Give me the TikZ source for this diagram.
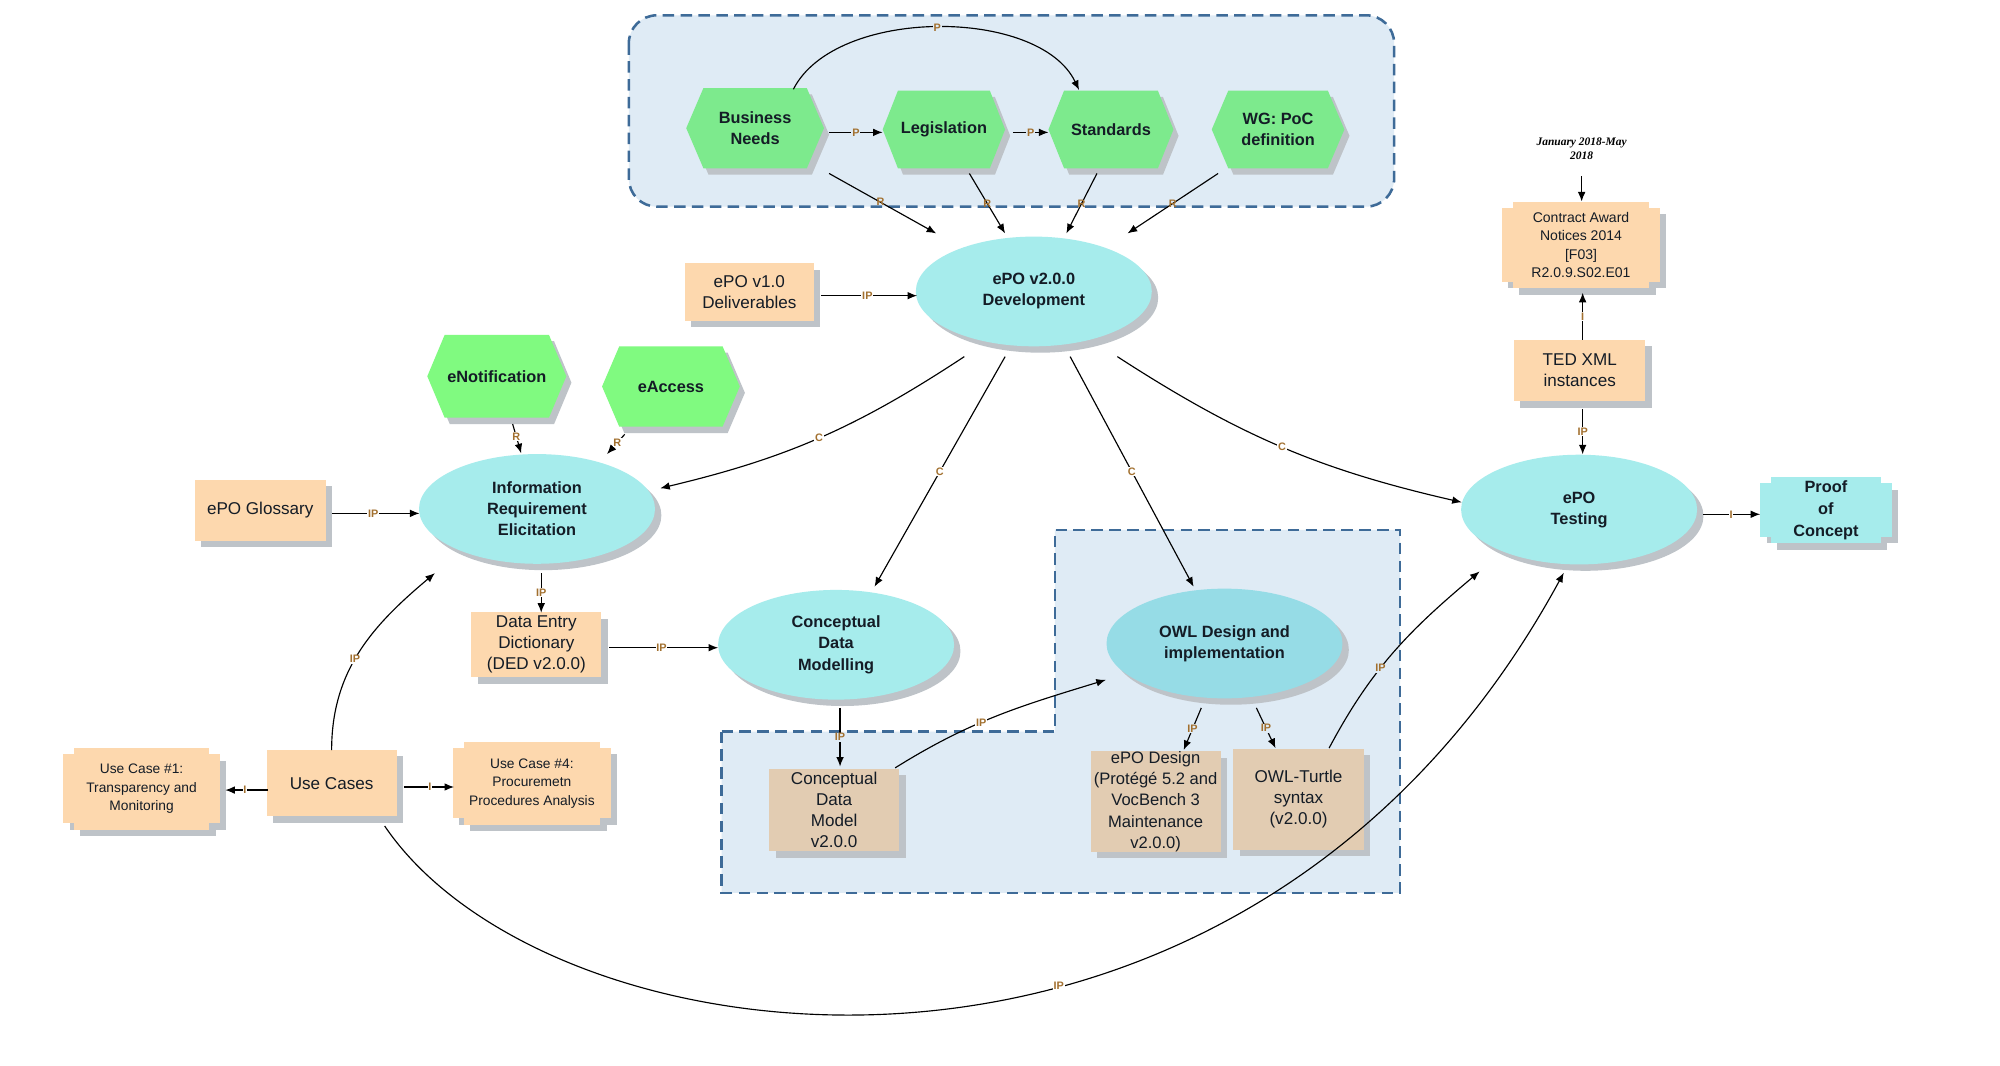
\documentclass[tikz,border=0pt]{standalone}
\usepackage{fontspec}
\setmainfont{Liberation Sans}
\newfontfamily\datefont{Liberation Serif}
\usetikzlibrary{shapes.geometric,shadows,calc,arrows.meta}

\definecolor{hexgreen}{HTML}{7DEA8D}
\definecolor{hexgreenb}{HTML}{80FA80}
\definecolor{cyanfill}{HTML}{A6ECEC}
\definecolor{owlfill}{HTML}{96DCE6}
\definecolor{peach}{HTML}{FDD8AE}
\definecolor{tanfill}{HTML}{E2CCB2}
\definecolor{contfill}{HTML}{DFEBF5}
\definecolor{contline}{HTML}{3E6B98}
\definecolor{shadowc}{HTML}{BEC3C8}
\definecolor{txt}{HTML}{141C26}
\definecolor{lblcol}{HTML}{A2702F}

\tikzset{
  every node/.style={text=txt},
  shad/.style={drop shadow={shadow xshift=5pt,shadow yshift=-5pt,fill=shadowc,opacity=1}},
  ell/.style={ellipse, shad, fill=cyanfill, minimum width=185pt, minimum height=86pt,
    inner sep=0pt, align=center, font=\bfseries\fontsize{12.8}{16.5}\selectfont},
  rbox/.style={rectangle, shad, fill=peach, inner sep=0pt, align=center,
    font=\fontsize{13.4}{16.5}\selectfont},
  hextext/.style={inner sep=0pt, align=center, font=\bfseries\fontsize{12.8}{16}\selectfont},
  conn/.style={line width=0.9pt, -{Latex[length=7.5pt,width=6pt]}},
  lbl/.style={font=\bfseries\fontsize{8.5}{8.5}\selectfont, text=lblcol, inner sep=0.6pt, fill=white},
  lblin/.style={lbl, fill=contfill},
  lblno/.style={lbl, fill=none},
  cont/.style={draw=contline, fill=contfill, line width=2pt, dash pattern=on 9pt off 5pt},
}

% hexagon: name, x, y, w, h, fill, text
\newcommand\hexnode[7]{%
  \begin{scope}[shift={(#2,#3)}]
    \pgfmathsetmacro\hxw{#4/2}\pgfmathsetmacro\hxh{#5/2}\pgfmathsetmacro\hxp{#4*0.125}
    \fill[shadowc] (-\hxw+4,-5) -- (-\hxw+\hxp+4,\hxh-5) -- (\hxw-\hxp+4,\hxh-5) -- (\hxw+4,-5)
      -- (\hxw-\hxp+4,-\hxh-5) -- (-\hxw+\hxp+4,-\hxh-5) -- cycle;
    \fill[#6] (-\hxw,0) -- (-\hxw+\hxp,\hxh) -- (\hxw-\hxp,\hxh) -- (\hxw,0)
      -- (\hxw-\hxp,-\hxh) -- (-\hxw+\hxp,-\hxh) -- cycle;
    \node[hextext, minimum width=#4pt, minimum height=#5pt] (#1) at (0,0) {#7};
  \end{scope}}

% notched box: name, x, y, w, h, fill, font, text
\newcommand\crossnode[8]{%
  \begin{scope}[shift={(#2,#3)}]
    \pgfmathsetmacro\cxw{#4/2}\pgfmathsetmacro\cxh{#5/2}
    \foreach \sx/\sy/\cbcol in {5/-5/shadowc, 0/0/#6} {
      \fill[\cbcol] (-\cxw+\sx,-\cxh+5+\sy) rectangle (\cxw+\sx,\cxh-5+\sy);
      \fill[\cbcol] (-\cxw+8.5+\sx,-\cxh+\sy) rectangle (\cxw-8.5+\sx,\cxh+\sy);
    }
    \node[inner sep=0pt, align=center, minimum width=#4pt, minimum height=#5pt, font=#7] (#1) at (0,0) {#8};
  \end{scope}}

\begin{document}
\begin{tikzpicture}[x=1pt,y=1pt]
\useasboundingbox (0,0) rectangle (1568,-835);
\fill[white] (0,0) rectangle (1568,-835);

% containers
\draw[cont, rounded corners=22pt] (493,-12) rectangle (1093,-162);
\draw[cont] (565.7,-573.6) -- (827,-573.6) -- (827,-415.5) -- (1097.6,-415.5)
  -- (1097.6,-700) -- (565.7,-700) -- cycle;

% hexagons
\hexnode{bn}{592}{-100.5}{108}{63}{hexgreen}{Business\\Needs}
\hexnode{leg}{740}{-101.5}{96}{61}{hexgreen}{Legislation}
\hexnode{std}{871}{-101.5}{98}{61}{hexgreen}{Standards}
\hexnode{wg}{1002}{-101.5}{104}{61}{hexgreen}{WG: PoC\\definition}
\hexnode{enot}{389.5}{-295}{109}{65}{hexgreenb}{eNotification}
\hexnode{eacc}{526}{-303}{108}{63}{hexgreenb}{eAccess}

% ellipses
\node[ell] (dev) at (810.5,-228.5) {ePO v2.0.0\\Development};
\node[ell] (ire) at (421,-399) {Information\\Requirement\\Elicitation};
\node[ell] (cdm) at (655.5,-505.5) {Conceptual\\Data\\Modelling};
\node[ell, fill=owlfill] (owl) at (960,-504.5) {OWL Design and\\implementation};
\node[ell] (test) at (1238,-399.5) {ePO\\Testing};

% boxes
\node[rbox, minimum width=101pt, minimum height=45pt] (v1) at (587.5,-229) {ePO v1.0\\Deliverables};
\node[rbox, minimum width=103pt, minimum height=48pt] (glos) at (204,-400) {ePO Glossary};
\node[rbox, minimum width=102pt, minimum height=51pt] (ded) at (420.5,-505.5) {Data Entry\\Dictionary\\(DED v2.0.0)};
\node[rbox, fill=tanfill, minimum width=102pt, minimum height=65pt] (cdmod) at (654,-635) {Conceptual\\Data\\Model\\v2.0.0};
\node[rbox, fill=tanfill, minimum width=102pt, minimum height=79pt, font=\fontsize{13}{16.5}\selectfont] (epod) at (906,-628.5) {ePO Design\\(Protégé 5.2 and\\VocBench 3\\Maintenance\\v2.0.0)};
\node[rbox, fill=tanfill, minimum width=102pt, minimum height=79pt] (turtle) at (1018,-626.5) {OWL-Turtle\\syntax\\(v2.0.0)};
\node[rbox, minimum width=103pt, minimum height=48pt] (ted) at (1238.5,-290.5) {TED XML\\instances};
\node[rbox, minimum width=102pt, minimum height=52pt] (uc) at (260,-614) {Use Cases};

\crossnode{can}{1239.5}{-192}{124}{68}{peach}{\fontsize{11}{14.5}\selectfont}{Contract Award\\Notices 2014\\{}[F03]\\R2.0.9.S02.E01}
\crossnode{poc}{1431.5}{-400}{103}{52}{cyanfill}{\bfseries\fontsize{12.8}{17}\selectfont}{Proof\\of\\Concept}
\crossnode{uc1}{111}{-618.5}{123}{64}{peach}{\fontsize{10.8}{14.5}\selectfont}{Use Case \#1:\\Transparency and\\Monitoring}
\crossnode{uc4}{417}{-614}{124}{65}{peach}{\fontsize{10.8}{14.5}\selectfont}{Use Case \#4:\\Procuremetn\\Procedures Analysis}

\node[font=\datefont\bfseries\itshape\fontsize{9}{11.5}\selectfont, align=center, inner sep=0pt, text=black] (date) at (1240,-116.5) {January 2018-May\\2018};

% connectors
\draw[conn] ($(bn.center)+(58,-3.3)$) -- node[lblin]{P} ($(leg.center)+(-48,-2.3)$);
\draw[conn] ($(leg.center)+(54,-2.3)$) -- node[lblin]{P} ($(std.center)+(-49,-2.3)$);
\draw[conn] ($(bn.center)+(30,30.5)$) .. controls +(33,65) and +(-31,65) .. ($(std.center)+(-25,30.9)$) node[lblin, pos=0.5]{P};

\draw[conn] ($(bn.center)+(58,-35.5)$) -- node[lblno, pos=0.48]{R} ($(dev.center)+(-76.5,45.5)$);
\draw[conn] ($(leg.center)+(20,-34.5)$) -- node[lblno, pos=0.5]{R} ($(dev.center)+(-22.5,45.5)$);
\draw[conn] ($(std.center)+(-11,-34.5)$) -- node[lblno, pos=0.5]{R} ($(dev.center)+(25.5,45.5)$);
\draw[conn] ($(wg.center)+(-47,-34.5)$) -- node[lblno, pos=0.5]{R} ($(dev.center)+(73.5,45.5)$);

\draw[conn] ($(v1.center)+(56.5,-2.8)$) -- node[lbl, pos=0.48]{IP} ($(dev.center)+(-91.5,-3.3)$);

\draw[conn] ($(enot.center)+(12.4,-37.4)$) -- node[lbl, pos=0.43]{R} ($(ire.center)+(-12.4,43.6)$);
\draw[conn] ($(eacc.center)+(-36.2,-37.5)$) -- node[lbl, pos=0.42]{R} ($(ire.center)+(54.9,43)$);

\draw[conn] ($(glos.center)+(56.6,-2.5)$) -- node[lbl, pos=0.47]{IP} ($(ire.center)+(-92.1,-3.5)$);
\draw[conn] ($(ire.center)+(3.3,-50.3)$) -- node[lbl]{IP} ($(ded.center)+(3.8,25.1)$);
\draw[conn] ($(ded.center)+(57,-2.3)$) -- node[lbl, pos=0.48]{IP} ($(cdm.center)+(-92.5,-2.3)$);

\draw[conn] ($(dev.center)+(-54.5,-51.1)$) to[bend left=10] node[lbl]{C} ($(ire.center)+(96.6,16.2)$);
\draw[conn] ($(dev.center)+(-22.5,-51.1)$) -- node[lbl]{C} ($(cdm.center)+(30.1,45.5)$);
\draw[conn] ($(dev.center)+(28.5,-51.1)$) -- node[lbl]{C} ($(owl.center)+(-24.2,44.5)$);
\draw[conn] ($(dev.center)+(65.5,-51.1)$) to[bend right=10] node[lbl]{C} ($(test.center)+(-92,5.7)$);

\draw[conn] ($(cdm.center)+(3.1,-49.5)$) -- node[lblin]{IP} ($(cdmod.center)+(4.6,34)$);
\draw[conn] ($(cdmod.center)+(47.8,33)$) to[out=32,in=197] node[lbl, pos=0.42]{IP} ($(owl.center)+(-93,-28.5)$);
\draw[conn] ($(owl.center)+(-18.2,-50.5)$) -- node[lblin]{IP} ($(epod.center)+(22,40.5)$);
\draw[conn] ($(owl.center)+(25,-50.5)$) -- node[lblin]{IP} ($(turtle.center)+(-18,39.9)$);
\draw[conn] ($(turtle.center)+(24,40)$) to[out=62,in=220] node[lblin, pos=0.4]{IP} ($(test.center)+(-78,-48.5)$);

\draw[conn] ($(test.center)+(97.4,-3.7)$) -- node[lbl, pos=0.49]{I} ($(poc.center)+(-51.5,-3.2)$);
\draw[conn] ($(date.center)+(0,-21.5)$) -- ($(can.center)+(0.5,34)$);
\draw[conn] ($(ted.center)+(2.3,24)$) -- node[lbl]{I} ($(can.center)+(1.3,-37.5)$);
\draw[conn] ($(ted.center)+(2.3,-30.4)$) -- node[lbl]{IP} ($(test.center)+(2.8,43.3)$);

\draw[conn] ($(uc.center)+(-50,-5.4)$) -- node[lbl, pos=0.54]{I} ($(uc1.center)+(65.6,-0.9)$);
\draw[conn] ($(uc.center)+(56.6,-3)$) -- node[lbl, pos=0.52]{I} ($(uc4.center)+(-61,-3)$);
\draw[conn] ($(uc.center)+(0,26)$) to[out=90,in=220] node[lbl, pos=0.45]{IP} ($(ire.center)+(-80,-50.3)$);
\draw[conn] ($(uc.center)+(41.6,-33.6)$) .. controls +(130,-192) and +(-250,-460) .. ($(test.center)+(-12,-49.5)$) node[lbl, pos=0.6]{IP};
\end{tikzpicture}
\end{document}
